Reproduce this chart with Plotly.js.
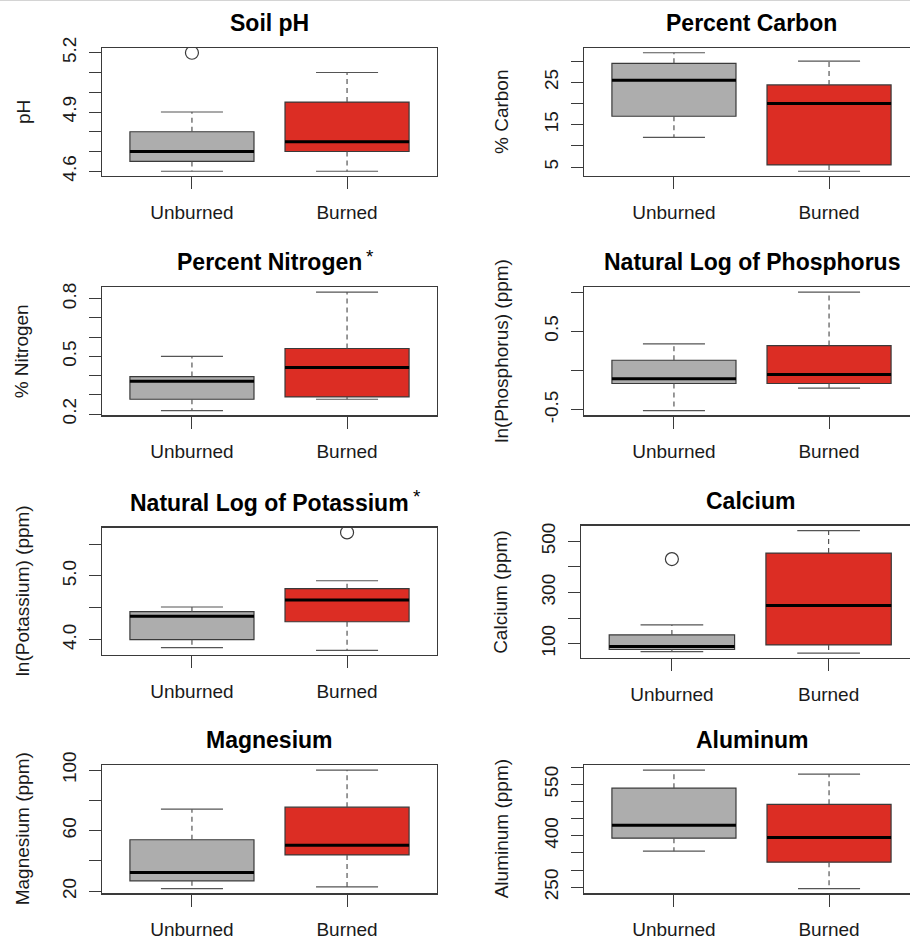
<!DOCTYPE html>
<html>
<head>
<meta charset="utf-8">
<script src="https://cdn.plot.ly/plotly-3.0.1.min.js"></script>
<style>
  html, body { margin: 0; padding: 0; background: #fff; overflow: hidden; }
  #chart { width: 920px; height: 939px; }
</style>
</head>
<body>
<div id="chart"></div>
<script>
// ---------- data ----------
const groups = ["Unburned", "Burned"];
const panelTitles = ["Soil pH", "Percent Carbon", "Percent Nitrogen", "Natural Log of Phosphorus",
                     "Natural Log of Potassium", "Calcium", "Magnesium", "Aluminum"];
const significant = [false, false, true, false, true, false, false, false];
const yTitles = ["pH", "% Carbon", "% Nitrogen", "ln(Phosphorus) (ppm)",
                 "ln(Potassium) (ppm)", "Calcium (ppm)", "Magnesium (ppm)", "Aluminum (ppm)"];

// per panel: [Unburned, Burned]
const lowerWhisker = [[4.6, 4.6], [12, 4], [0.218, 0.277], [-0.51, -0.225], [3.875, 3.834], [69, 63], [21.8, 22.9], [355, 246]];
const quartile1    = [[4.65, 4.7], [17, 5.5], [0.277, 0.289], [-0.165, -0.165], [4.0, 4.282], [77, 95], [26.9, 44], [393, 323]];
const medians      = [[4.7, 4.75], [25.5, 20], [0.37, 0.442], [-0.106, -0.051], [4.367, 4.622], [89, 249], [32.4, 50.4], [431, 395]];
const quartile3    = [[4.8, 4.95], [29.5, 24.4], [0.395, 0.541], [0.131, 0.318], [4.44, 4.80], [134, 454], [54, 75.5], [539, 492]];
const upperWhisker = [[4.9, 5.1], [32, 30], [0.5, 0.835], [0.34, 1.0], [4.513, 4.925], [173, 542], [74.2, 100], [592, 580]];
const outliers     = [[[5.2], []], [[], []], [[], []], [[], []], [[], [5.683]], [[430.6], []], [[], []], [[], []]];

// y tick values and their labels ('' = unlabeled tick)
const yTickVals = [
  [4.6, 4.7, 4.8, 4.9, 5.0, 5.1, 5.2],
  [5, 10, 15, 20, 25, 30],
  [0.2, 0.3, 0.4, 0.5, 0.6, 0.7, 0.8],
  [-0.5, 0, 0.5, 1.0],
  [4.0, 4.5, 5.0, 5.5],
  [100, 200, 300, 400, 500],
  [20, 40, 60, 80, 100],
  [250, 300, 350, 400, 450, 500, 550, 600]
];
const yTickText = [
  ["4.6", "", "", "4.9", "", "", "5.2"],
  ["5", "", "15", "", "25", ""],
  ["0.2", "", "", "0.5", "", "", "0.8"],
  ["-0.5", "", "0.5", ""],
  ["4.0", "", "5.0", ""],
  ["100", "", "300", "", "500"],
  ["20", "", "60", "", "100"],
  ["250", "", "", "400", "", "", "550", ""]
];

// ---------- layout geometry (pixels) ----------
const W = 920, H = 939;
const boxes = [ // [left, right, top, bottom]
  [102, 437, 48, 176], [584, 919, 48, 176],
  [102, 437, 287.3, 415.3], [584, 919, 287.3, 415.3],
  [102, 437, 527.7, 655], [581, 919.5, 525.7, 658],
  [102, 437, 765.3, 893.3], [584, 919, 765.3, 893.3]
];
const yTitleX = [23, 501, 21, 501.5, 22, 501, 22, 501];
const fills = ["#adadad", "#dc2d24"];
const edge = "#3a3a3a";
const font = "Liberation Sans, Arial, Helvetica, sans-serif";
const BW = 0.8;

const traces = [];
const layout = {
  width: W, height: H,
  margin: {l: 0, r: 0, t: 0, b: 0},
  paper_bgcolor: "#fff", plot_bgcolor: "#fff",
  showlegend: false,
  hovermode: false,
  boxmode: "overlay",
  font: {family: font, color: "#1a1a1a"},
  annotations: [],
  shapes: [{type: "line", xref: "paper", yref: "paper", x0: 0, x1: 1, y0: 1, y1: 1,
            line: {color: "#d4d4d4", width: 2}}]
};

for (let p = 0; p < 8; p++) {
  const n = p + 1;
  const xa = "x" + (n === 1 ? "" : n), ya = "y" + (n === 1 ? "" : n);
  const xk = "xaxis" + (n === 1 ? "" : n), yk = "yaxis" + (n === 1 ? "" : n);
  const [L, R, T, B] = boxes[p];

  // data range like R: extend 4%
  let all = [];
  for (let g = 0; g < 2; g++) all = all.concat([lowerWhisker[p][g], upperWhisker[p][g]], outliers[p][g]);
  const lo = Math.min(...all), hi = Math.max(...all), pad = 0.04 * (hi - lo);

  layout[xk] = {
    domain: [L / W, R / W], anchor: ya, range: [0.42, 2.58],
    tickvals: [1, 2], ticktext: groups, ticks: "outside", ticklen: 12, tickwidth: 1, tickcolor: edge,
    showline: true, mirror: true, linecolor: edge, linewidth: 1.3,
    showgrid: false, zeroline: false, fixedrange: true,
    tickfont: {family: font, size: 19, color: "#1a1a1a"}, ticklabelstandoff: 7
  };
  layout[yk] = {
    domain: [1 - B / H, 1 - T / H], anchor: xa, range: [lo - pad, hi + pad],
    tickvals: yTickVals[p], ticktext: yTickText[p], tickangle: -90,
    ticks: "outside", ticklen: 12, tickwidth: 1, tickcolor: edge,
    showline: true, mirror: true, linecolor: edge, linewidth: 1.3,
    showgrid: false, zeroline: false, fixedrange: true,
    tickfont: {family: font, size: 19, color: "#1a1a1a"}, ticklabelstandoff: 5
  };

  for (let g = 0; g < 2; g++) {
    const xc = g + 1;
    const q1 = quartile1[p][g], q3 = quartile3[p][g], md = medians[p][g];
    const lw = lowerWhisker[p][g], uw = upperWhisker[p][g];
    // dashed whiskers
    traces.push({type: "scatter", mode: "lines", xaxis: xa, yaxis: ya,
      x: [xc, xc, null, xc, xc], y: [q3, uw, null, q1, lw],
      line: {color: "#555", width: 1.2, dash: "5px,4px"}, hoverinfo: "skip"});
    // staples
    traces.push({type: "scatter", mode: "lines", xaxis: xa, yaxis: ya,
      x: [xc - BW / 4, xc + BW / 4, null, xc - BW / 4, xc + BW / 4], y: [uw, uw, null, lw, lw],
      line: {color: "#555", width: 1.2}, hoverinfo: "skip"});
    // box
    traces.push({type: "box", xaxis: xa, yaxis: ya, name: groups[g],
      x: [xc], q1: [q1], median: [md], q3: [q3], lowerfence: [q1], upperfence: [q3],
      width: BW, whiskerwidth: 0, boxpoints: false,
      fillcolor: fills[g], line: {color: edge, width: 1.2}, hoverinfo: "skip"});
    // thick median
    traces.push({type: "scatter", mode: "lines", xaxis: xa, yaxis: ya,
      x: [xc - BW / 2, xc + BW / 2], y: [md, md],
      line: {color: "#000", width: 3}, hoverinfo: "skip"});
    // outliers
    if (outliers[p][g].length) {
      traces.push({type: "scatter", mode: "markers", xaxis: xa, yaxis: ya,
        x: outliers[p][g].map(() => xc), y: outliers[p][g],
        marker: {symbol: "circle-open", size: 13, color: "#3a3a3a", line: {width: 1.2}}, hoverinfo: "skip"});
    }
  }

  // panel title
  const cx = (L + R) / 2 / W;
  layout.annotations.push({xref: "paper", yref: "paper", x: cx, y: 1 - (T - 25) / H,
    xanchor: "center", yanchor: "middle", showarrow: false,
    text: "<b>" + panelTitles[p] + "</b>", font: {family: font, size: 23, color: "#000"}});
  if (significant[p]) {
    layout.annotations.push({xref: "paper", yref: "paper",
      x: cx + (p === 2 ? 100 : 148) / W, y: 1 - (T - 31) / H,
      xanchor: "center", yanchor: "middle", showarrow: false,
      text: "*", font: {family: font, size: 19, color: "#000"}});
  }
  // y axis title
  layout.annotations.push({xref: "paper", yref: "paper", x: yTitleX[p] / W, y: 1 - (T + B) / 2 / H,
    xanchor: "center", yanchor: "middle", textangle: -90, showarrow: false,
    text: yTitles[p], font: {family: font, size: 19, color: "#1a1a1a"}});
}

Plotly.newPlot("chart", traces, layout, {staticPlot: true, displayModeBar: false});
</script>
</body>
</html>
